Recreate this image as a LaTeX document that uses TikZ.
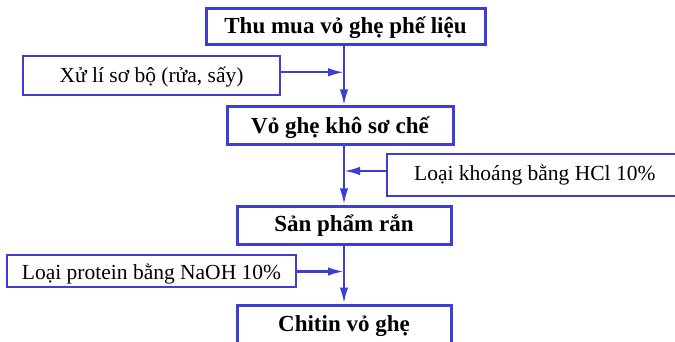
\documentclass[tikz,border=0pt]{standalone}
\usepackage{fontspec}
\setmainfont{Liberation Serif}
\newfontfamily\serf{Liberation Serif}
\usetikzlibrary{arrows.meta}
\definecolor{lineblue}{RGB}{62,62,214}
\begin{document}
\begin{tikzpicture}[x=1pt,y=-1pt,
  mainbox/.style={draw=lineblue,line width=3pt,fill=white,inner sep=0pt,text depth=0pt,font=\serf\fontsize{23}{26}\selectfont\bfseries,text=black},
  sidebox/.style={draw=lineblue,line width=2pt,fill=white,inner sep=0pt,text depth=0pt,font=\serf\fontsize{21.5}{24}\selectfont,text=black},
  conn/.style={draw=lineblue,line width=2.3pt,-{Latex[length=16pt,width=8.5pt]}}]
\useasboundingbox (0,0) rectangle (675,342);
\clip (0,0) rectangle (675,342);
\fill[white] (0,0) rectangle (675,342);
\coordinate (v) at (344,0);
\node[mainbox,minimum width=279pt,minimum height=36pt,text height=12.6pt] (b1) at (345.5,27) {Thu mua vỏ ghẹ phế liệu};
\node[sidebox,minimum width=257pt,minimum height=39pt,text height=13.6pt] (b2) at (151.5,75.5) {Xử lí sơ bộ (rửa, sấy)};
\node[mainbox,minimum width=226pt,minimum height=38pt,text height=14.6pt] (b3) at (340,126) {Vỏ ghẹ khô sơ chế};
\node[sidebox,minimum width=313pt,minimum height=42pt] (b4) at (543.5,175) {};
\node[font=\serf\fontsize{21.5}{24}\selectfont,anchor=base west,inner sep=0pt] (t4) at (414,180) {Loại khoáng bằng HCl 10\%};
\node[mainbox,minimum width=214pt,minimum height=38pt,text height=13.4pt] (b5) at (344,225) {Sản phẩm rắn};
\node[sidebox,minimum width=289pt,minimum height=32pt,text height=16pt] (b6) at (151.5,271) {Loại protein bằng NaOH 10\%};
\node[mainbox,minimum width=214pt,minimum height=40pt,text height=13.4pt] (b7) at (344,325) {Chitin vỏ ghẹ};
\coordinate (j1) at (344,72.3);
\coordinate (j2) at (344,171);
\coordinate (j3) at (344,271.5);
\draw[conn] (b1.south -| v) -- (b3.north -| v);
\draw[conn] (b3.south -| v) -- (b5.north -| v);
\draw[conn] (b5.south -| v) -- (b7.north -| v);
\draw[conn] (b2.east |- j1) -- (j1);
\draw[conn] (b4.west |- j2) -- (j2);
\draw[conn] (b6.east |- j3) -- (j3);
\end{tikzpicture}
\end{document}
